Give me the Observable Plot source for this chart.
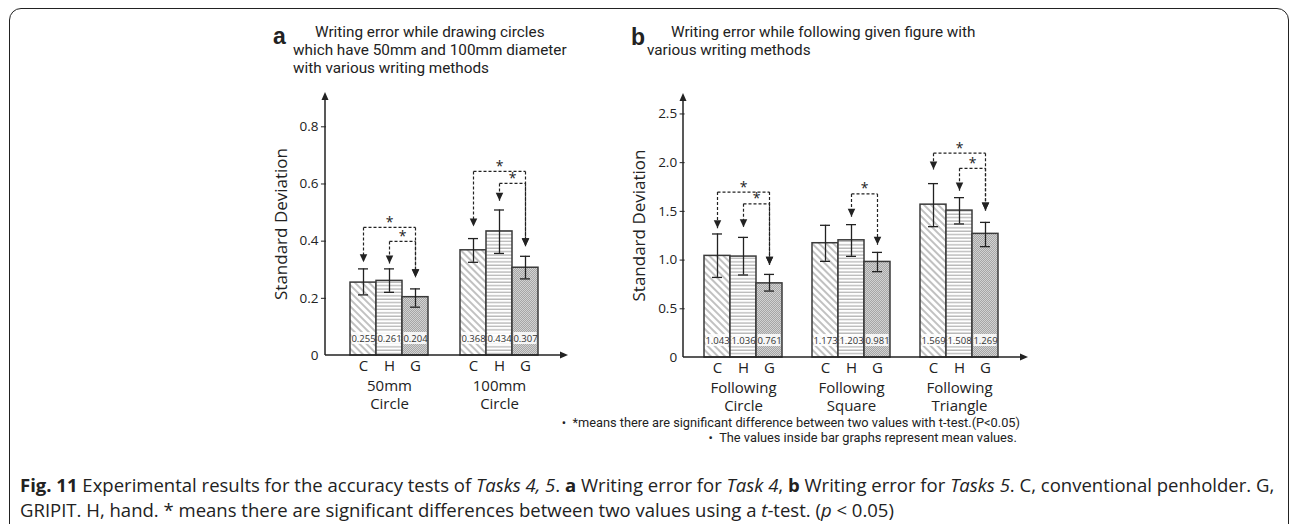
<!DOCTYPE html>
<html>
<head>
<meta charset="utf-8">
<script src="https://cdn.jsdelivr.net/npm/d3@7"></script>
<script src="https://cdn.jsdelivr.net/npm/@observablehq/plot@0.6"></script>
<style>
  html, body { margin: 0; padding: 0; background: #fff; }
  body { width: 1292px; height: 524px; position: relative; overflow: hidden; font-family: "Open Sans", sans-serif; color: #222; }
  #frame { position: absolute; left: 9px; top: 8px; width: 1280px; height: 560px; border: 1.6px solid #222; border-radius: 12px; box-sizing: border-box; }
  .abs { position: absolute; white-space: nowrap; }
  .panelLetter { font-family: "Liberation Sans", Arial, sans-serif; font-weight: bold; font-size: 23px; line-height: 1; }
  .ptitle { font-family: Roboto, "Open Sans", sans-serif; font-size: 15.3px; line-height: 18px; color: #222; }
  .foot { font-family: Roboto, "Open Sans", sans-serif; font-size: 12.8px; line-height: 15px; color: #222; text-align: right; }
  .caption { font-family: "Open Sans", sans-serif; font-size: 18px; line-height: 25px; color: #222; }
  .chart { position: absolute; }
</style>
</head>
<body>
<div id="frame"></div>
<svg width="0" height="0" style="position:absolute">
  <defs>
    <pattern id="patC" width="5" height="5" patternUnits="userSpaceOnUse" patternTransform="rotate(-45)">
      <rect width="5" height="5" fill="#fff"/>
      <line x1="1" y1="0" x2="1" y2="5" stroke="#a0a0a0" stroke-width="1.3"/>
    </pattern>
    <pattern id="patH" width="4" height="3.4" patternUnits="userSpaceOnUse">
      <rect width="4" height="3.4" fill="#fff"/>
      <line x1="0" y1="1" x2="4" y2="1" stroke="#a8a8a8" stroke-width="1.1"/>
    </pattern>
    <pattern id="patG" width="2" height="2" patternUnits="userSpaceOnUse">
      <rect width="2" height="2" fill="#d2d2d2"/>
      <rect x="0" y="0" width="1" height="1" fill="#a6a6a6"/>
      <rect x="1" y="1" width="1" height="1" fill="#a6a6a6"/>
    </pattern>
  </defs>
</svg>

<div class="abs panelLetter" style="left:273px; top:25px;">a</div>
<div id="titleA" class="abs ptitle" style="left:293px; top:23px; text-indent:22px;">Writing error while drawing circles<br>which have 50mm and 100mm diameter<br>with various writing methods</div>

<div class="abs panelLetter" style="left:631px; top:26px;">b</div>
<div id="titleB" class="abs ptitle" style="left:647px; top:23px; text-indent:24px;">Writing error while following given figure with<br>various writing methods</div>

<div id="chartA" class="chart" style="left:250px; top:84px;"></div>
<div id="chartB" class="chart" style="left:600px; top:84px;"></div>

<div class="abs foot" style="right:272px; top:415px;">•&nbsp;&nbsp;*means there are significant difference between two values with t-test.(P&lt;0.05)<br>•&nbsp;&nbsp;The values inside bar graphs represent mean values.&nbsp;</div>

<div id="cap1" class="abs caption" style="left:20px; top:472px;"><b>Fig. 11</b> Experimental results for the accuracy tests of <i>Tasks 4, 5</i>. <b>a</b> Writing error for <i>Task 4</i>, <b>b</b> Writing error for <i>Tasks 5</i>. C, conventional penholder. G,<br>GRIPIT. H, hand. * means there are significant differences between two values using a <i>t</i>-test. (<i>p</i> &lt; 0.05)</div>

<script>
// ---------- data ----------
const methods = ["C", "H", "G"];

const groupsA = ["50mm Circle", "100mm Circle"];
const meansA = [[0.255, 0.261, 0.204], [0.368, 0.434, 0.307]];
const errLowA = [[0.212, 0.221, 0.169], [0.326, 0.357, 0.268]];
const errHighA = [[0.303, 0.303, 0.233], [0.409, 0.509, 0.347]];
const ticksA = [0.2, 0.4, 0.6, 0.8];
const sigA = [
  {group: "50mm Circle", from: "C", to: "G", level: 0.448, fromTip: 0.326, toTip: 0.274},
  {group: "50mm Circle", from: "H", to: "G", level: 0.399, fromTip: 0.322, toTip: 0.274},
  {group: "100mm Circle", from: "C", to: "G", level: 0.644, fromTip: 0.451, toTip: 0.382},
  {group: "100mm Circle", from: "H", to: "G", level: 0.602, fromTip: 0.541, toTip: 0.382}
];

const groupsB = ["Following Circle", "Following Square", "Following Triangle"];
const meansB = [[1.043, 1.036, 0.761], [1.173, 1.203, 0.981], [1.569, 1.508, 1.269]];
const errLowB = [[0.822, 0.847, 0.682], [0.987, 1.038, 0.881], [1.343, 1.371, 1.138]];
const errHighB = [[1.268, 1.233, 0.853], [1.357, 1.364, 1.079], [1.785, 1.641, 1.387]];
const ticksB = [0.5, 1.0, 1.5, 2.0, 2.5];
const sigB = [
  {group: "Following Circle", from: "C", to: "G", level: 1.698, fromTip: 1.326, toTip: 0.953},
  {group: "Following Circle", from: "H", to: "G", level: 1.577, fromTip: 1.336, toTip: 0.953},
  {group: "Following Square", from: "H", to: "G", level: 1.679, fromTip: 1.446, toTip: 1.158},
  {group: "Following Triangle", from: "C", to: "G", level: 2.097, fromTip: 1.930, toTip: 1.508},
  {group: "Following Triangle", from: "H", to: "G", level: 1.942, fromTip: 1.713, toTip: 1.508}
];

// ---------- drawing ----------
const patternFill = {C: "url(#patC)", H: "url(#patH)", G: "url(#patG)"};
const downTriangle = {
  draw(ctx, size) {
    const w = 7.5, h = 8;
    ctx.moveTo(0, 0); ctx.lineTo(-w / 2, -h); ctx.lineTo(w / 2, -h); ctx.closePath();
  }
};

function panel(el, cfg) {
  const {groups, means, lo, hi, sig, yMax, ticks, width, height, ml, mr, mt, mb, pIn, pOut, xEnd} = cfg;
  const rows = groups.flatMap((g, gi) => methods.map((m, mi) => ({
    group: g, method: m, value: means[gi][mi], lo: lo[gi][mi], hi: hi[gi][mi]
  })));
  const dash = {stroke: "#222", strokeWidth: 1.2, strokeDasharray: "3,2"};
  const plot = Plot.plot({
    width, height,
    marginLeft: ml, marginRight: mr, marginTop: mt, marginBottom: mb,
    style: {fontFamily: "Open Sans, sans-serif", fontSize: "15px", color: "#222", background: "transparent", overflow: "visible"},
    fx: {domain: groups, paddingInner: pIn, paddingOuter: pOut, label: null},
    x: {domain: methods, padding: 0, label: null},
    y: {domain: [0, yMax], label: null},
    marks: [
      ...methods.map(m => Plot.barY(rows.filter(d => d.method === m), {
        fx: "group", x: "method", y: "value", fill: patternFill[m], stroke: "#3a3a3a", strokeWidth: 1.5
      })),
      // white boxes behind mean labels
      Plot.barY(rows, {fx: "group", x: "method", y1: () => 0, y2: () => 0,
        insetTop: -23, insetBottom: 11, insetLeft: 1.5, insetRight: 1.5, fill: "white", fillOpacity: 0.85}),
      Plot.text(rows, {fx: "group", x: "method", y: () => 0, dy: -17, text: d => d.value.toFixed(3),
        fontSize: 9.5, fill: "#333"}),
      // error bars
      Plot.ruleX(rows, {fx: "group", x: "method", y1: "lo", y2: "hi", stroke: "#222", strokeWidth: 1.3}),
      Plot.tickY(rows, {fx: "group", x: "method", y: "lo", insetLeft: 8, insetRight: 8, stroke: "#222", strokeWidth: 1.3}),
      Plot.tickY(rows, {fx: "group", x: "method", y: "hi", insetLeft: 8, insetRight: 8, stroke: "#222", strokeWidth: 1.3}),
      // significance brackets
      Plot.link(sig, {fx: "group", x1: "from", x2: "to", y1: "level", y2: "level", ...dash}),
      Plot.link(sig, {fx: "group", x1: "from", x2: "from", y1: "level", y2: "fromTip", ...dash}),
      Plot.link(sig, {fx: "group", x1: "to", x2: "to", y1: "level", y2: "toTip", ...dash}),
      Plot.dot(sig, {fx: "group", x: "from", y: "fromTip", symbol: downTriangle, r: 3, fill: "#222", stroke: null}),
      Plot.dot(sig, {fx: "group", x: "to", y: "toTip", symbol: downTriangle, r: 3, fill: "#222", stroke: null}),
      Plot.text(sig.filter(d => d.from === "C"), {fx: "group", x: () => "H", y: "level", dy: -5, text: () => "*", fontSize: 14}),
      Plot.text(sig.filter(d => d.from === "H"), {fx: "group", x: "to", dx: -13, y: "level", dy: -5, text: () => "*", fontSize: 14}),
      // axes
      Plot.axisY({ticks, tickSize: 5, tickPadding: 3, fontSize: 13.5, tickFormat: d => d.toFixed(1), label: null}),
      Plot.axisY({ticks: [0], tickSize: 0, tickPadding: 8, fontSize: 13.5, tickFormat: () => "0", label: null}),
      Plot.axisY({ticks: [], tickSize: 0, fontSize: 17,
        label: "Standard Deviation", labelAnchor: "center", labelArrow: "none", labelOffset: 52}),
      Plot.axisX({tickSize: 0, tickPadding: 5, fontSize: 15, label: null}),
      Plot.axisFx({anchor: "bottom", tickSize: 0, tickPadding: 23, fontSize: 15, lineHeight: 1.2, label: null,
        tickFormat: g => g.replace(" ", "\n")})
    ]
  });
  // y axis in a faceted plot sits at the first facet's left edge; move it to the frame's left edge
  const n = groups.length;
  const off = (width - ml - mr) * pOut / (n - pIn + 2 * pOut);
  plot.querySelectorAll('g[aria-label^="y-axis"]').forEach(node => {
    const t = node.getAttribute("transform") || "";
    node.setAttribute("transform", `translate(${-off},0) ${t}`);
  });
  // axis lines with arrowheads, positioned through the plot's y scale
  const ys = plot.scale("y");
  const y0 = ys.apply(0), yTop = ys.apply(yMax);
  const g = d3.select(plot).append("g").attr("stroke", "#222").attr("fill", "#222");
  g.append("line").attr("x1", ml).attr("x2", ml).attr("y1", y0).attr("y2", yTop + 4).attr("stroke-width", 1.5);
  g.append("path").attr("stroke", "none").attr("d", `M${ml},${yTop}L${ml - 3.5},${yTop + 8}L${ml + 3.5},${yTop + 8}Z`);
  g.append("line").attr("x1", ml).attr("x2", xEnd - 4).attr("y1", y0).attr("y2", y0).attr("stroke-width", 1.5);
  g.append("path").attr("stroke", "none").attr("d", `M${xEnd},${y0}L${xEnd - 8},${y0 - 3.5}L${xEnd - 8},${y0 + 3.5}Z`);
  document.getElementById(el).appendChild(plot);
}

panel("chartA", {
  groups: groupsA, means: meansA, lo: errLowA, hi: errHighA, sig: sigA, yMax: 0.92, ticks: ticksA,
  width: 330, height: 340, ml: 75, mr: 18, mt: 8, mb: 69, pIn: 0.294, pOut: 0.217, xEnd: 318
});
panel("chartB", {
  groups: groupsB, means: meansB, lo: errLowB, hi: errHighB, sig: sigB, yMax: 2.71, ticks: ticksB,
  width: 450, height: 340, ml: 83, mr: 32, mt: 9, mb: 67, pIn: 0.28, pOut: 0.178, xEnd: 428
});

// fit the caption's first line to the reference width
const cap1 = document.getElementById("cap1");
const probe = document.createElement("span");
probe.innerHTML = cap1.innerHTML.split("<br>")[0];
probe.style.cssText = "position:absolute;visibility:hidden;white-space:nowrap;font-family:'Open Sans';font-size:18px;";
document.body.appendChild(probe);
const w = probe.getBoundingClientRect().width;
probe.remove();
cap1.style.fontSize = (18 * 1255 / w) + "px";
</script>
</body>
</html>
